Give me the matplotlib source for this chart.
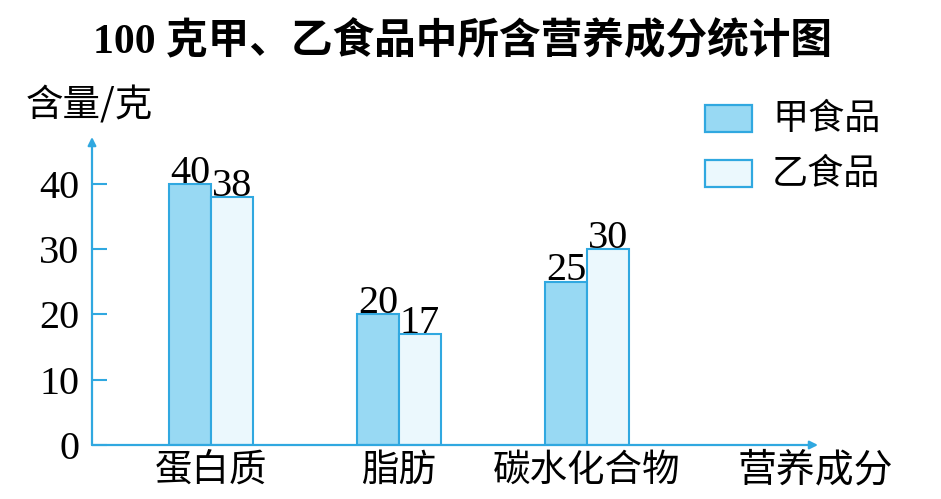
import matplotlib.pyplot as plt
from matplotlib.patches import Rectangle
import numpy as np

# data
categories = ["蛋白质", "脂肪", "碳水化合物"]
series_names = ["甲食品", "乙食品"]
food_a = [40, 20, 25]
food_b = [38, 17, 30]
y_ticks = [0, 10, 20, 30, 40]

cjk = "Noto Sans CJK SC"
serif = "Liberation Serif"
edge = "#30a8e0"
fill_a = "#98d9f3"
fill_b = "#ebf8fd"

fig = plt.figure(figsize=(9.41, 4.99), dpi=100)
ax = fig.add_axes([92 / 941, 54 / 499, 726 / 941, 308 / 499])

x = np.arange(len(categories))
w = 0.223
bars_a = ax.bar(x - w / 2, food_a, w, color=fill_a, edgecolor=edge, linewidth=1.5)
bars_b = ax.bar(x + w / 2, food_b, w, color=fill_b, edgecolor=edge, linewidth=1.5)

ax.set_xlim(-0.633, 3.229)
ax.set_ylim(0, 47.2)
for s in ax.spines.values():
    s.set_visible(False)

# axes drawn as arrows
arrow = dict(arrowstyle="-|>", color=edge, lw=1.6, mutation_scale=12, shrinkA=0, shrinkB=0)
ax.annotate("", xy=(0, 1), xytext=(0, 0), xycoords="axes fraction", arrowprops=arrow)
ax.annotate("", xy=(1, 0), xytext=(0, 0), xycoords="axes fraction", arrowprops=arrow)

ax.set_yticks(y_ticks)
ax.set_yticklabels([str(t) for t in y_ticks], fontfamily=serif, fontsize=29)
ax.tick_params(axis="y", direction="in", length=11, width=1.5, color=edge, pad=9)
ax.set_xticks(x)
ax.set_xticklabels(categories, fontfamily=cjk, fontsize=27)
ax.tick_params(axis="x", length=0, pad=4)

# value labels
for bars, vals in ((bars_a, food_a), (bars_b, food_b)):
    for b, v in zip(bars, vals):
        ax.annotate(str(v), (b.get_x() + b.get_width() / 2, v), xytext=(0, 1),
                    textcoords="offset points", ha="center", va="baseline",
                    fontfamily=serif, fontsize=29, clip_on=False)

# title and axis names
fig.text(0.491, 1 - 42 / 499, "100 克甲、乙食品中所含营养成分统计图", ha="center", va="center",
         fontfamily=[serif, cjk], fontweight="bold", fontsize=30)
fig.text(26 / 941, 1 - 106 / 499, "含量/克", ha="left", va="center", fontfamily=cjk, fontsize=27)
fig.text(738 / 941, 1 - 470 / 499, "营养成分", ha="left", va="center", fontfamily=cjk, fontsize=28)

# legend
for i, (name, fc) in enumerate(zip(series_names, (fill_a, fill_b))):
    top = 105 + 55 * i
    fig.add_artist(Rectangle((705 / 941, 1 - (top + 27) / 499), 47 / 941, 27 / 499,
                             transform=fig.transFigure, facecolor=fc, edgecolor=edge, linewidth=1.6))
    fig.text(772 / 941, 1 - (top + 14) / 499, name, ha="left", va="center", fontfamily=cjk, fontsize=26)

fig.savefig("out.png", dpi=100)
